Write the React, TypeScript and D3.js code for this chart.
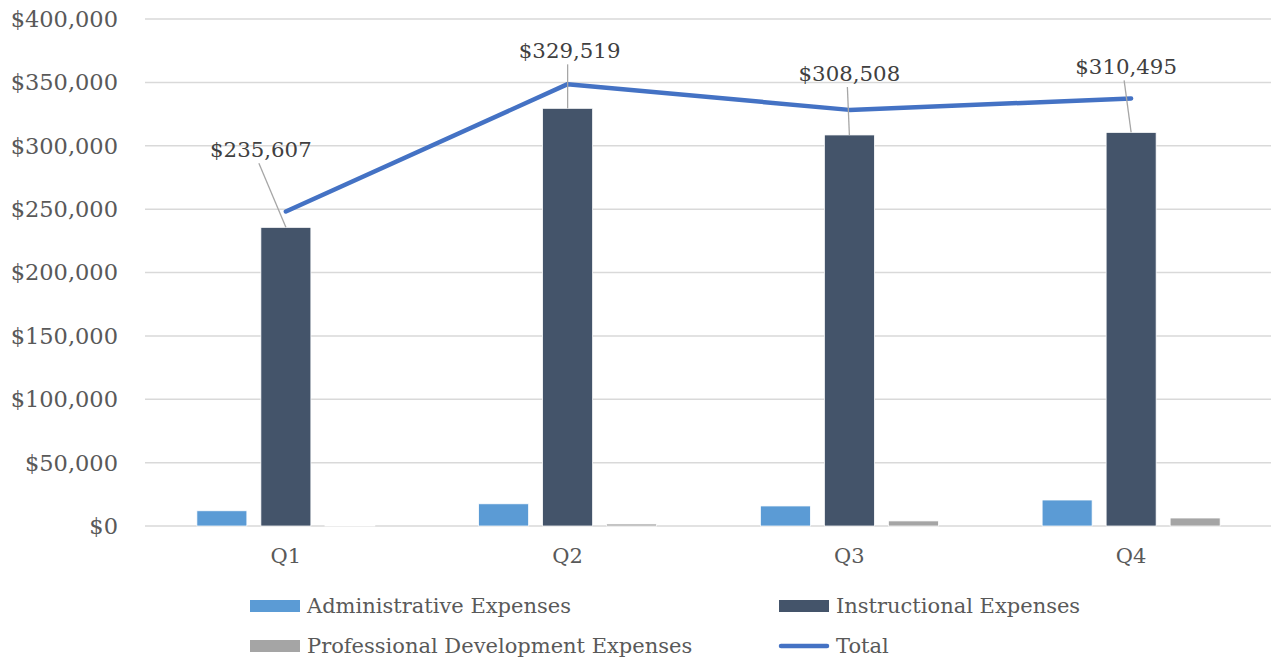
import { scaleBand, scaleLinear, line } from 'd3'

const quarters = ['Q1', 'Q2', 'Q3', 'Q4']
const seriesNames = ['Administrative Expenses', 'Instructional Expenses', 'Professional Development Expenses']
const adminValues = [12000, 17500, 15800, 20500]
const instructionalValues = [235607, 329519, 308508, 310495]
const profDevValues = [500, 1600, 4000, 6300]
const totalValues = [248100, 348600, 328300, 337300]
const yTickValues = [0, 50000, 100000, 150000, 200000, 250000, 300000, 350000, 400000]

const seriesColors = ['#5B9BD5', '#44546A', '#A5A5A5']
const totalColor = '#4472C4'
// manual label offsets (relative to bar top centre), like the moved Excel labels
const labelOffsets = [
  [-25, -70],
  [2, -50],
  [0, -54],
  [-5, -58],
]

const width = 1271
const height = 663
const plotLeft = 145
const plotRight = 1272
const plotTop = 19
const plotBottom = 526
const font = '"DejaVu Serif", serif'

const fmt = (v: number) => '$' + v.toLocaleString('en-US')

export default function App() {
  const xScale = scaleBand().domain(quarters).range([plotLeft, plotRight])
  const innerScale = scaleBand().domain(seriesNames).range([-89, 89]).paddingInner(0.219)
  const yScale = scaleLinear().domain([0, 400000]).range([plotBottom, plotTop])
  const seriesValues = [adminValues, instructionalValues, profDevValues]

  const center = (q: string) => (xScale(q) ?? 0) + xScale.bandwidth() / 2
  const totalLine = line<number>()
    .x((_, i) => center(quarters[i]))
    .y((d) => yScale(d))(totalValues)

  return (
    <svg
      width={width}
      height={height}
      style={{ position: 'absolute', left: 0, top: 0, background: '#fff' }}
    >
      {yTickValues.map((tick) => (
        <g key={tick}>
          <line
            x1={plotLeft}
            x2={plotRight}
            y1={yScale(tick)}
            y2={yScale(tick)}
            stroke="#D9D9D9"
            strokeWidth={1.5}
          />
          <text
            x={118}
            y={yScale(tick)}
            dy="0.35em"
            textAnchor="end"
            fontFamily={font}
            fontSize={22.5}
            fill="#595959"
          >
            {fmt(tick)}
          </text>
        </g>
      ))}

      {seriesNames.map((name, si) =>
        quarters.map((q, qi) => {
          const v = seriesValues[si][qi]
          const x = center(q) + (innerScale(name) ?? 0)
          return (
            <rect
              key={name + q}
              x={x}
              y={yScale(v)}
              width={innerScale.bandwidth()}
              height={plotBottom - yScale(v)}
              fill={seriesColors[si]}
              stroke="#fff"
              strokeWidth={0.75}
            />
          )
        })
      )}

      <path
        d={totalLine ?? ''}
        fill="none"
        stroke={totalColor}
        strokeWidth={4.5}
        strokeLinecap="round"
        strokeLinejoin="round"
      />

      {quarters.map((q, qi) => {
        const v = instructionalValues[qi]
        const bx = center(q) + (innerScale(seriesNames[1]) ?? 0) + innerScale.bandwidth() / 2
        const by = yScale(v)
        const lx = bx + labelOffsets[qi][0]
        const ly = by + labelOffsets[qi][1]
        return (
          <g key={'lbl' + q}>
            <line x1={lx - 2} y1={ly + 6} x2={bx} y2={by} stroke="#A6A6A6" strokeWidth={1.3} />
            <text
              x={lx}
              y={ly}
              textAnchor="middle"
              fontFamily={font}
              fontSize={21.3}
              fill="#404040"
            >
              {fmt(v)}
            </text>
          </g>
        )
      })}

      {quarters.map((q) => (
        <text
          key={'ax' + q}
          x={center(q)}
          y={563}
          textAnchor="middle"
          fontFamily={font}
          fontSize={21}
          fill="#595959"
        >
          {q}
        </text>
      ))}

      {[
        { label: seriesNames[0], color: seriesColors[0], x: 250, y: 606, kind: 'bar' },
        { label: seriesNames[1], color: seriesColors[1], x: 779, y: 606, kind: 'bar' },
        { label: seriesNames[2], color: seriesColors[2], x: 250, y: 646, kind: 'bar' },
        { label: 'Total', color: totalColor, x: 779, y: 646, kind: 'line' },
      ].map((item) => (
        <g key={item.label}>
          {item.kind === 'bar' ? (
            <rect x={item.x} y={item.y - 6} width={50} height={12} fill={item.color} />
          ) : (
            <line
              x1={item.x + 2}
              x2={item.x + 48}
              y1={item.y}
              y2={item.y}
              stroke={item.color}
              strokeWidth={4.5}
              strokeLinecap="round"
            />
          )}
          <text
            x={item.x + 57}
            y={item.y}
            dy="0.35em"
            fontFamily={font}
            fontSize={21}
            fill="#595959"
          >
            {item.label}
          </text>
        </g>
      ))}
    </svg>
  )
}
